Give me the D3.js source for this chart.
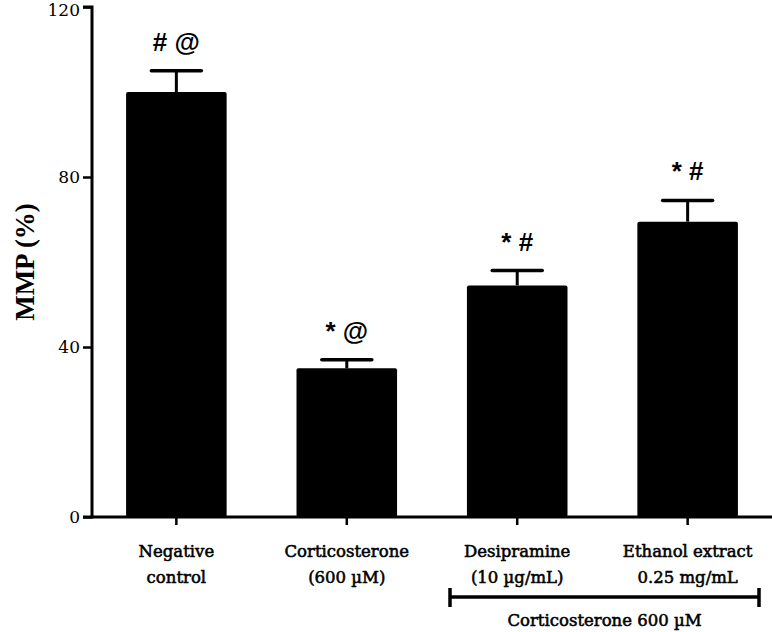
<!DOCTYPE html>
<html><head><meta charset="utf-8">
<script src="https://cdn.jsdelivr.net/npm/d3@7"></script>
<style>body{margin:0;background:#fff}</style>
</head><body>
<svg id="chart" width="772" height="632"></svg>
<script>
const categories = ["Negative control", "Corticosterone (600 µM)", "Desipramine (10 µg/mL)", "Ethanol extract 0.25 mg/mL"];
const labelLines = [["Negative", "control"], ["Corticosterone", "(600 µM)"], ["Desipramine", "(10 µg/mL)"], ["Ethanol extract", "0.25 mg/mL"]];
const values = [100, 35, 54.5, 69.5];
const errors = [5, 2, 3.5, 5];
const marks = ["# @", "* @", "* #", "* #"];
const yTicks = [0, 40, 80, 120];
const bracketLabel = "Corticosterone 600 µM";

const svg = d3.select("#chart");
const x0 = 92, x1 = 772, yTop = 7, yBot = 517;
const x = d3.scaleBand().domain(categories).range([92, 772]).paddingInner(0.41).paddingOuter(0.2);
const y = d3.scaleLinear().domain([0, 120]).range([yBot, yTop]);
const serif = "'DejaVu Serif', 'Liberation Serif', serif";

// bars
svg.selectAll("rect.bar").data(categories).join("rect")
  .attr("x", d => x(d)).attr("width", x.bandwidth())
  .attr("y", (d, i) => y(values[i])).attr("height", (d, i) => yBot - y(values[i]))
  .attr("rx", 2).attr("fill", "#000");

// error bars
const eb = svg.selectAll("g.err").data(categories).join("g");
eb.append("line")
  .attr("x1", d => x(d) + x.bandwidth() / 2).attr("x2", d => x(d) + x.bandwidth() / 2)
  .attr("y1", (d, i) => y(values[i])).attr("y2", (d, i) => y(values[i] + errors[i]))
  .attr("stroke", "#000").attr("stroke-width", 3);
eb.append("line")
  .attr("x1", d => x(d) + x.bandwidth() / 2 - 25).attr("x2", d => x(d) + x.bandwidth() / 2 + 25)
  .attr("y1", (d, i) => y(values[i] + errors[i])).attr("y2", (d, i) => y(values[i] + errors[i]))
  .attr("stroke", "#000").attr("stroke-width", 3.5).attr("stroke-linecap", "round");

// significance marks
svg.selectAll("text.mark").data(categories).join("text")
  .attr("x", d => x(d) + x.bandwidth() / 2)
  .attr("y", (d, i) => y(values[i] + errors[i]) - 20)
  .attr("text-anchor", "middle")
  .attr("font-family", "'Liberation Sans', Arial, sans-serif").attr("font-weight", "bold")
  .attr("font-size", 26).attr("fill", "#000")
  .text((d, i) => marks[i]);

// y axis
const yAxis = d3.axisLeft(y).tickValues(yTicks).tickSize(9).tickPadding(3).tickFormat(d3.format("d"));
const gy = svg.append("g").attr("transform", `translate(${x0},0)`).call(yAxis);
gy.select(".domain").attr("stroke-width", 3).attr("d", `M-9,${yTop}H0V${yBot}H-9`);
gy.selectAll(".tick line").attr("stroke-width", 2.5);
gy.selectAll(".tick text").attr("font-family", serif).attr("font-size", 17).attr("fill", "#000").attr("dy", "0.35em");
gy.selectAll(".tick").filter(d => d === 120).select("text").attr("dy", "0.5em");

// x axis
const xAxis = d3.axisBottom(x).tickSize(8).tickFormat("");
const gx = svg.append("g").attr("transform", `translate(0,${yBot})`).call(xAxis);
gx.select(".domain").attr("stroke-width", 3).attr("d", `M${x0},0H${x1}`);
gx.selectAll(".tick line").attr("stroke-width", 2.5);

// category labels
labelLines.forEach((lines, i) => {
  const cx = x(categories[i]) + x.bandwidth() / 2;
  lines.forEach((t, j) => {
    svg.append("text").attr("x", cx).attr("y", 557 + j * 26)
      .attr("text-anchor", "middle").attr("font-family", serif)
      .attr("font-size", 16.5).attr("fill", "#000").attr("stroke", "#000").attr("stroke-width", 0.55).text(t);
  });
});

// bracket
const bx1 = 450, bx2 = 759, by = 597;
svg.append("line").attr("x1", bx1).attr("x2", bx2).attr("y1", by).attr("y2", by).attr("stroke", "#000").attr("stroke-width", 3.5);
[bx1, bx2].forEach(bx => svg.append("line").attr("x1", bx).attr("x2", bx).attr("y1", by - 9).attr("y2", by + 10).attr("stroke", "#000").attr("stroke-width", 3.5));
svg.append("text").attr("x", (bx1 + bx2) / 2).attr("y", 626).attr("text-anchor", "middle")
  .attr("font-family", serif).attr("font-size", 16.5).attr("fill", "#000").attr("stroke", "#000").attr("stroke-width", 0.55).text(bracketLabel);

// y label
svg.append("text").attr("transform", "translate(34,262) rotate(-90)").attr("text-anchor", "middle")
  .attr("font-family", "'Liberation Serif', serif").attr("font-weight", "bold").attr("font-size", 27).attr("fill", "#000").text("MMP (%)");
</script>
</body></html>
